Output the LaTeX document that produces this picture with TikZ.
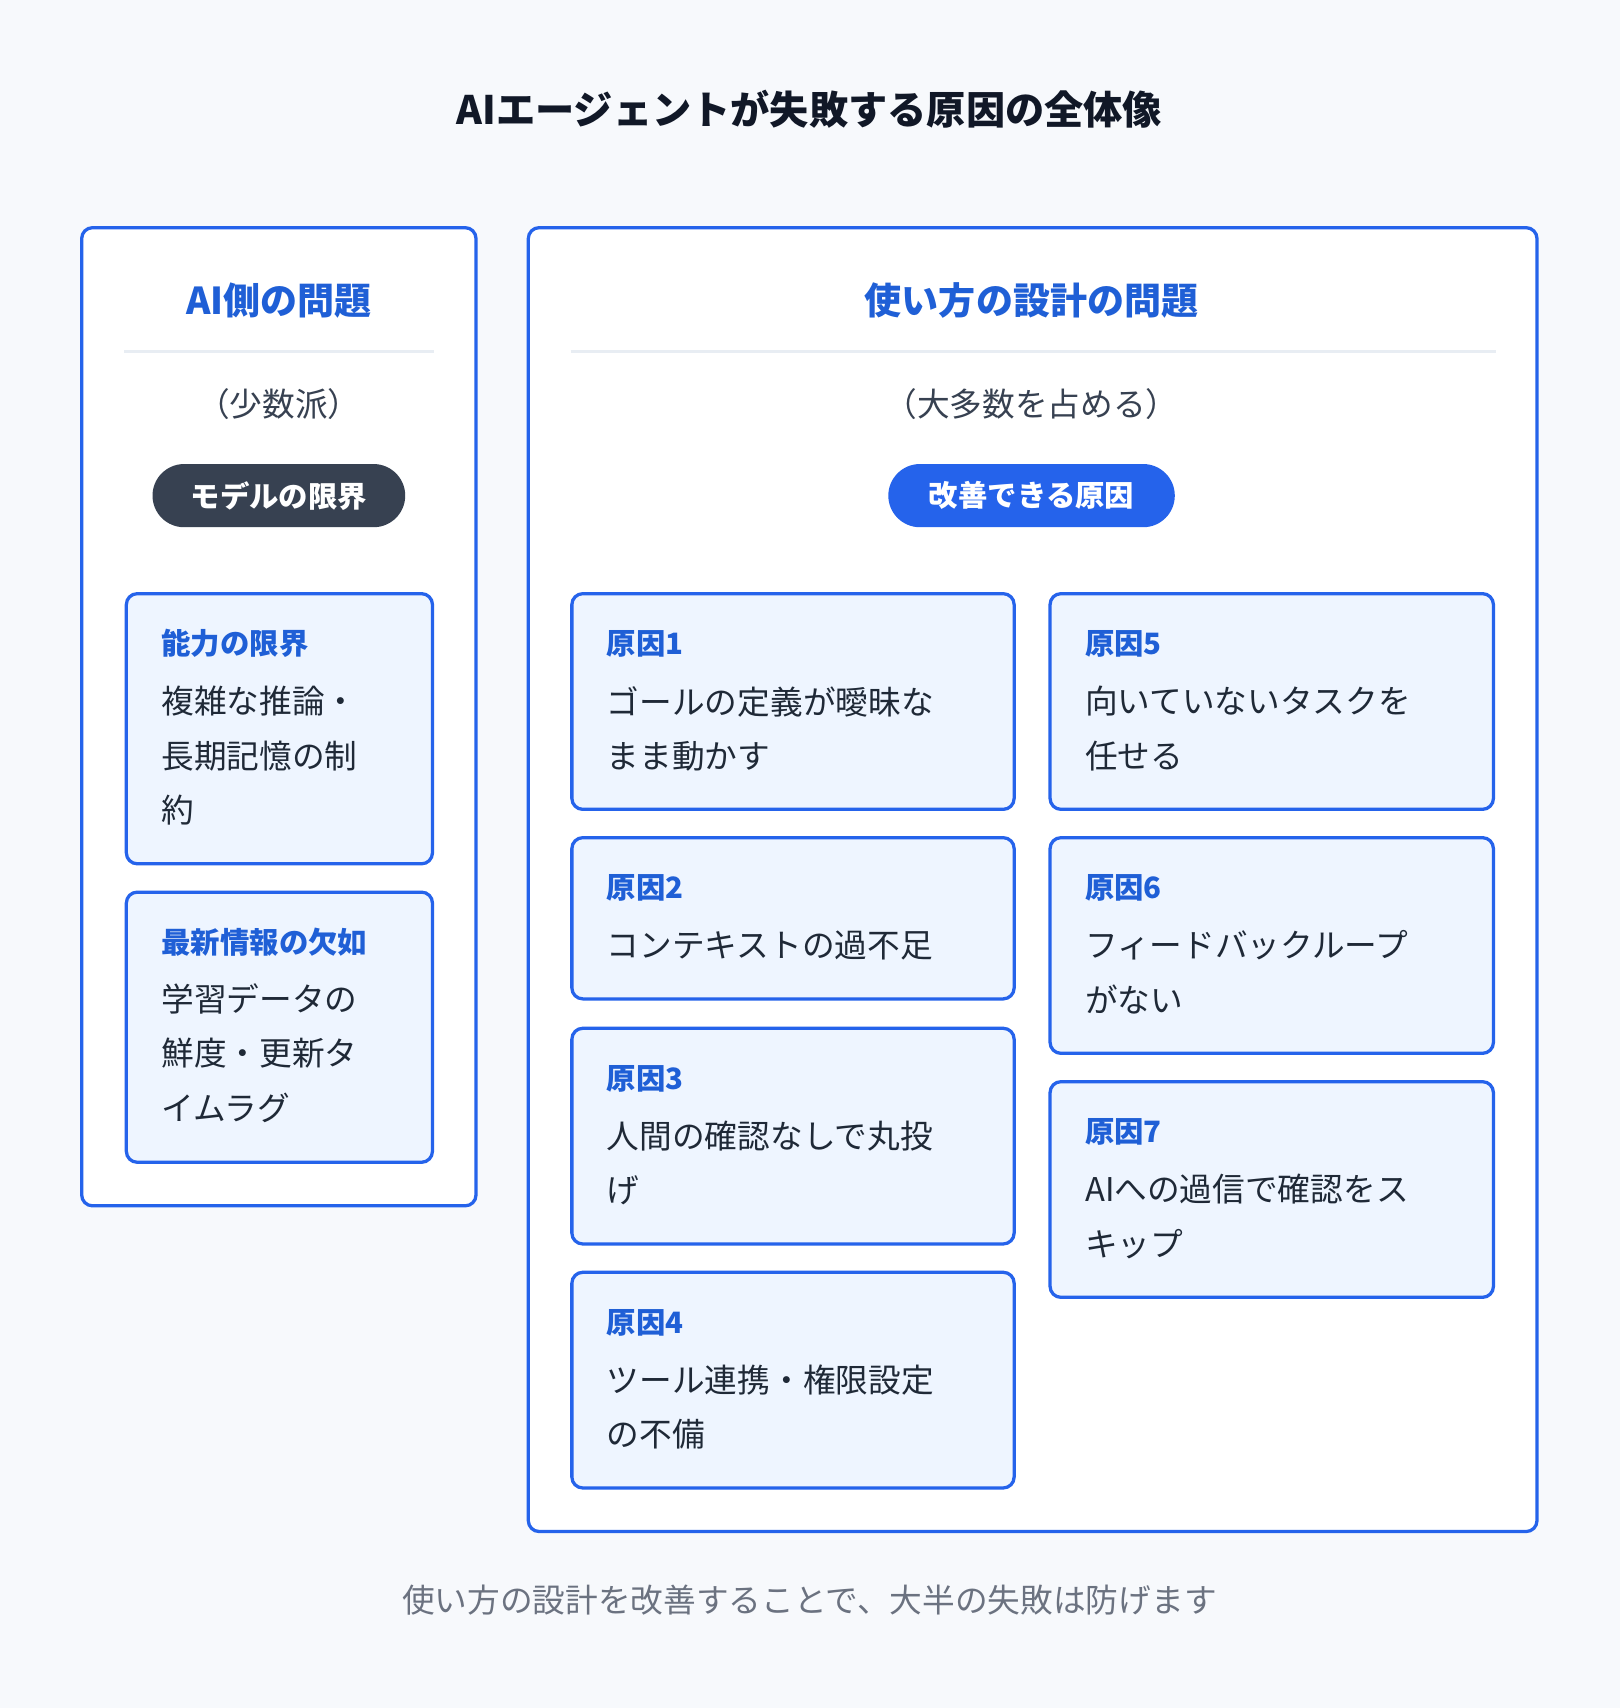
\documentclass[tikz,border=0pt]{standalone}
\usepackage{fontspec}
\setmainfont{Noto Sans CJK JP}
\definecolor{bg}{HTML}{F7F9FC}
\definecolor{blu}{HTML}{2563EB}
\definecolor{ttl}{HTML}{1F5FD6}
\definecolor{dark}{HTML}{111827}
\definecolor{txt}{HTML}{1F2937}
\definecolor{gry}{HTML}{374151}
\definecolor{foot}{HTML}{6B7280}
\definecolor{card}{HTML}{EEF5FF}
\definecolor{pill}{HTML}{374151}
\definecolor{divc}{HTML}{E8EDF3}
\tikzset{
 panel/.style={draw=blu,line width=3pt,fill=white,rounded corners=10pt},
 cardbox/.style={draw=blu,line width=3pt,fill=card,rounded corners=10pt},
 ptitle/.style={text=ttl,font=\fontsize{34}{40}\selectfont\bfseries},
 sub/.style={text=gry,font=\fontsize{30}{36}\selectfont},
 pillst/.style={rounded corners=29pt,minimum height=58pt,text=white,font=\fontsize{27}{32}\selectfont\bfseries,inner sep=0pt},
 head/.style={anchor=west,text=ttl,font=\fontsize{27}{32}\selectfont\bfseries,inner sep=0pt},
 body/.style={anchor=west,text=txt,font=\fontsize{30}{36}\selectfont,inner sep=0pt},
}
\begin{document}
\begin{tikzpicture}[x=1pt,y=-1pt]
\fill[bg] (0,0) rectangle (1487,1568);
\useasboundingbox (0,0) rectangle (1487,1568);
\node[text=dark,font=\fontsize{36}{42}\selectfont\bfseries] (title) at (743,100) {AIエージェントが失敗する原因の全体像};
% left panel
\draw[panel] (75,209) rectangle (437,1107);
\node[ptitle] (lt) at (256,276) {AI側の問題};
\draw[divc,line width=3pt] (114,323) coordinate (ld1) -- (398,323) coordinate (ld2);
\node[sub] (ls) at (256,371) {（少数派）};
\node[pillst,fill=pill,minimum width=232pt] (lp) at (256,455) {モデルの限界};
\draw[cardbox] (116,545) rectangle (397,793);
\node[head] (l1h) at (148,591) {能力の限界};
\node[body] (l1a) at (148,644) {複雑な推論・};
\node[body] (l1b) at (148,694) {長期記憶の制};
\node[body] (l1c) at (148,744) {約};
\draw[cardbox] (116,819) rectangle (397,1067);
\node[head] (l2h) at (148,865) {最新情報の欠如};
\node[body] (l2a) at (148,917) {学習データの};
\node[body] (l2b) at (148,967) {鮮度・更新タ};
\node[body] (l2c) at (148,1017) {イムラグ};
% right panel
\draw[panel] (485,209) rectangle (1411,1406);
\node[ptitle] (rt) at (947,276) {使い方の設計の問題};
\draw[divc,line width=3pt] (524,323) coordinate (rd1) -- (1373,323) coordinate (rd2);
\node[sub] (rs) at (947,371) {（大多数を占める）};
\node[pillst,fill=blu,minimum width=263pt] (rp) at (947,455) {改善できる原因};
% column A
\draw[cardbox] (525,545) rectangle (931,743);
\node[head] (c1h) at (557,591) {原因1};
\node[body] (c1a) at (557,644) {ゴールの定義が曖昧な};
\node[body] (c1b) at (557,694) {まま動かす};
\draw[cardbox] (525,769) rectangle (931,917);
\node[head] (c2h) at (557,815) {原因2};
\node[body] (c2a) at (557,868) {コンテキストの過不足};
\draw[cardbox] (525,944) rectangle (931,1142);
\node[head] (c3h) at (557,990) {原因3};
\node[body] (c3a) at (557,1043) {人間の確認なしで丸投};
\node[body] (c3b) at (557,1093) {げ};
\draw[cardbox] (525,1168) rectangle (931,1366);
\node[head] (c4h) at (557,1214) {原因4};
\node[body] (c4a) at (557,1267) {ツール連携・権限設定};
\node[body] (c4b) at (557,1317) {の不備};
% column B
\draw[cardbox] (964,545) rectangle (1371,743);
\node[head] (c5h) at (996,591) {原因5};
\node[body] (c5a) at (996,644) {向いていないタスクを};
\node[body] (c5b) at (996,694) {任せる};
\draw[cardbox] (964,769) rectangle (1371,967);
\node[head] (c6h) at (996,815) {原因6};
\node[body] (c6a) at (996,868) {フィードバックループ};
\node[body] (c6b) at (996,918) {がない};
\draw[cardbox] (964,993) rectangle (1371,1191);
\node[head] (c7h) at (996,1039) {原因7};
\node[body] (c7a) at (996,1092) {AIへの過信で確認をス};
\node[body] (c7b) at (996,1142) {キップ};
\node[text=foot,font=\fontsize{30}{36}\selectfont] (ft) at (743,1469) {使い方の設計を改善することで、大半の失敗は防げます};
\end{tikzpicture}
\end{document}
